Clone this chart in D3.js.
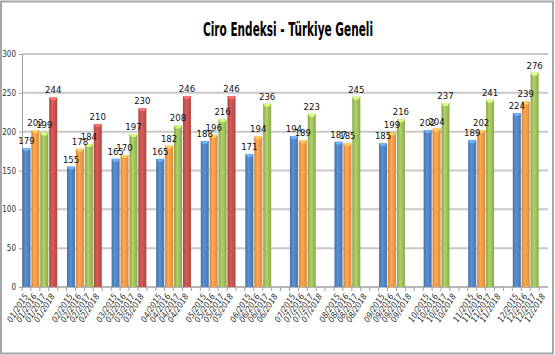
<!DOCTYPE html>
<html>
<head>
<meta charset="utf-8">
<script src="https://cdn.jsdelivr.net/npm/d3@7"></script>
<style>
  body { margin: 0; background: #fff; }
  svg { display: block; }
</style>
</head>
<body>
<div id="chart"></div>
<script>
// ay ve yıl listeleri
const months = ["01","02","03","04","05","06","07","08","09","10","11","12"]
const years = ["2015","2016","2017","2018"]

const v2015 = [179, 155, 165, 165, 188, 171, 194, 187, 185, 202, 189, 224]
const v2016 = [202, 178, 170, 182, 196, 194, 189, 185, 199, 204, 202, 239]
const v2017 = [199, 184, 197, 208, 216, 236, 223, 245, 216, 237, 241, 276]
const v2018 = [244, 210, 230, 246, 246, null, null, null, null, null, null, null]

const yTicks = [0, 50, 100, 150, 200, 250, 300]
const colors = ["#4f81bd", "#f79646", "#9bbb59", "#c0504d"]

const width = 555, height = 355
const margin = { top: 54, right: 7, bottom: 68, left: 22 }

// kategoriler: her ay için 4 yıl + aralarda boş bir kategori
let cats = []
months.forEach((m, i) => {
  years.forEach(y => cats.push({ key: m + "/" + y, label: m + "/" + y }))
  if (i < months.length - 1) cats.push({ key: "gap" + i, label: "" })
})

const allSeries = [v2015, v2016, v2017, v2018]
let bars = []
months.forEach((m, i) => {
  years.forEach((y, j) => {
    let v = allSeries[j][i]
    if (v != null) bars.push({ key: m + "/" + y, value: v, s: j })
  })
})

const svg = d3.select("#chart").append("svg")
  .attr("width", width)
  .attr("height", height)

const defs = svg.append("defs")
colors.forEach((c, i) => {
  let g = defs.append("linearGradient").attr("id", "grad" + i)
    .attr("x1", "0").attr("x2", "1").attr("y1", "0").attr("y2", "0")
  g.append("stop").attr("offset", "0%").attr("stop-color", d3.color(c).darker(0.4))
  g.append("stop").attr("offset", "40%").attr("stop-color", d3.color(c).brighter(0.35))
  g.append("stop").attr("offset", "100%").attr("stop-color", d3.color(c).darker(0.3))
})

// dış çerçeve
svg.append("rect")
  .attr("x", 1).attr("y", 1.5)
  .attr("width", width - 3).attr("height", height - 3)
  .attr("fill", "none")
  .attr("stroke", "#a6a6a6")
  .attr("stroke-width", 2)

const x = d3.scaleBand()
  .domain(cats.map(d => d.key))
  .range([margin.left, width - margin.right])
  .paddingInner(0.1)
  .paddingOuter(0.05)

const y = d3.scaleLinear()
  .domain([0, 300])
  .range([height - margin.bottom, margin.top])

svg.append("text")
  .attr("x", 288)
  .attr("y", 36)
  .attr("text-anchor", "middle")
  .attr("font-family", "Liberation Sans Narrow, DejaVu Sans Condensed, sans-serif")
  .attr("font-weight", "bold")
  .attr("font-size", "20px")
  .attr("textLength", 170)
  .attr("lengthAdjust", "spacingAndGlyphs")
  .attr("fill", "#000")
  .text("Ciro Endeksi - Türkiye Geneli")

// yatay ızgara
svg.append("g")
  .selectAll("line")
  .data(yTicks.filter(t => t > 0))
  .enter()
  .append("line")
  .attr("x1", margin.left)
  .attr("x2", width - margin.right)
  .attr("y1", d => y(d))
  .attr("y2", d => y(d))
  .attr("stroke", "#c8c8c8")
  .attr("stroke-width", 2)

// y ekseni
const yAxis = svg.append("g")
  .attr("transform", "translate(" + margin.left + ",0)")
  .call(d3.axisLeft(y).tickValues(yTicks).tickSize(3).tickPadding(3))
yAxis.select(".domain").attr("stroke", "#a0a0a0")
yAxis.selectAll(".tick line").attr("stroke", "#a0a0a0")
yAxis.selectAll("text")
  .attr("font-family", "Liberation Sans Narrow, DejaVu Sans Condensed, sans-serif")
  .attr("font-size", "8px")
  .attr("fill", "#333")

// x ekseni
const step = x.step()
const xAxis = svg.append("g")
  .attr("transform", "translate(0," + y(0) + ")")
xAxis.append("line")
  .attr("x1", margin.left).attr("x2", width - margin.right)
  .attr("stroke", "#a0a0a0").attr("stroke-width", 1.5)
xAxis.selectAll(".tk")
  .data(cats)
  .enter()
  .append("line")
  .attr("class", "tk")
  .attr("x1", d => x(d.key) - step * x.paddingInner() / 2)
  .attr("x2", d => x(d.key) - step * x.paddingInner() / 2)
  .attr("y1", 0).attr("y2", 4)
  .attr("stroke", "#a0a0a0")
xAxis.selectAll(".lbl")
  .data(cats.filter(d => d.label))
  .enter()
  .append("text")
  .attr("class", "lbl")
  .attr("transform", d => "translate(" + (x(d.key) + x.bandwidth() / 2 + 2) + ",9) rotate(-58)")
  .attr("text-anchor", "end")
  .attr("font-family", "Liberation Sans Narrow, DejaVu Sans Condensed, sans-serif")
  .attr("font-style", "italic")
  .attr("font-size", "8.5px")
  .attr("fill", "#333")
  .text(d => d.label)

// çubuklar
const barG = svg.append("g")
barG.selectAll("rect")
  .data(bars)
  .enter()
  .append("rect")
  .attr("x", d => x(d.key))
  .attr("y", d => y(d.value))
  .attr("width", x.bandwidth())
  .attr("height", d => y(0) - y(d.value))
  .attr("fill", d => "url(#grad" + d.s + ")")

// üst kapak parlaklığı
barG.selectAll(".cap")
  .data(bars)
  .enter()
  .append("path")
  .attr("class", "cap")
  .attr("d", d => {
    let x0 = x(d.key), w = x.bandwidth(), t = y(d.value)
    return "M" + x0 + "," + t + "h" + w + "l-2,3h" + (-(w - 4)) + "z"
  })
  .attr("fill", d => d3.color(colors[d.s]).brighter(0.9))

// değer etiketleri
svg.append("g")
  .selectAll("text")
  .data(bars)
  .enter()
  .append("text")
  .attr("x", d => x(d.key) + x.bandwidth() / 2)
  .attr("y", d => y(d.value) - 4)
  .attr("text-anchor", "middle")
  .attr("font-family", "Liberation Sans Narrow, DejaVu Sans Condensed, sans-serif")
  .attr("font-size", "9.5px")
  .attr("fill", "#111")
  .text(d => d.value)
</script>
</body>
</html>
